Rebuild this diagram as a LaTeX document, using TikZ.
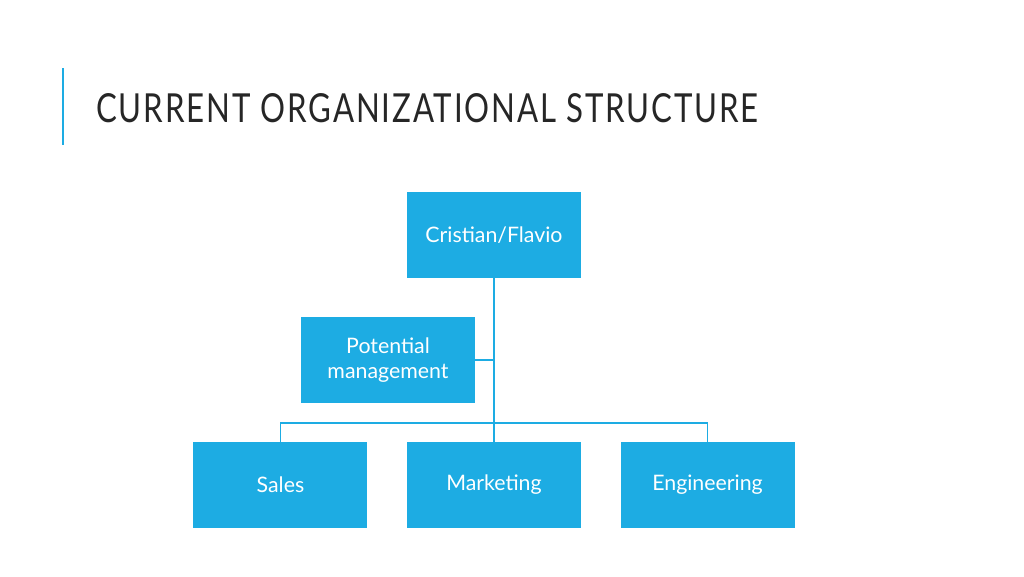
\documentclass[tikz,border=0pt]{standalone}
\usepackage{fontspec}
\setmainfont{Lato}
\usetikzlibrary{positioning}
\definecolor{orgblue}{HTML}{1DACE3}
\definecolor{titlegray}{HTML}{262626}
\begin{document}
\begin{tikzpicture}[x=0.75pt, y=-0.75pt]
    % Styles
    \tikzset{unit/.style={fill=orgblue, minimum width=130.5pt, minimum height=64.5pt, text=white, align=center, font=\fontsize{16}{19}\selectfont, inner sep=0pt},
             link/.style={draw=orgblue, line width=0.9pt}}
    \useasboundingbox (0,0) rectangle (1024,576);
    \fill[white] (0,0) rectangle (1024,576);

    % Title
    \draw[orgblue, line width=1.5pt] (63,68) -- (63,145);
    \node[anchor=west, text=titlegray, inner sep=0pt] (title) at (96,108)
        {\scalebox{0.78}[1]{\fontsize{30}{34}\selectfont\addfontfeature{LetterSpace=6}CURRENT ORGANIZATIONAL STRUCTURE}};

    % Units
    \node[unit] (top) at (494,235) {Cristian/Flavio};
    \node[unit] (pot) at (388,360) {Potential\\management};
    \node[unit] (mkt) at (494,485) {Marketing};
    \node[unit, left=29.25pt of mkt] (sales) {Sales};
    \node[unit, right=29.25pt of mkt] (eng) {Engineering};

    % Connectors
    \coordinate (bus) at (494,423);
    \draw[link] (top.south) -- (mkt.north);
    \draw[link] (pot.east) -- (pot.east -| top.south);
    \draw[link] (sales.north) |- (bus) -| (eng.north);
\end{tikzpicture}
\end{document}
